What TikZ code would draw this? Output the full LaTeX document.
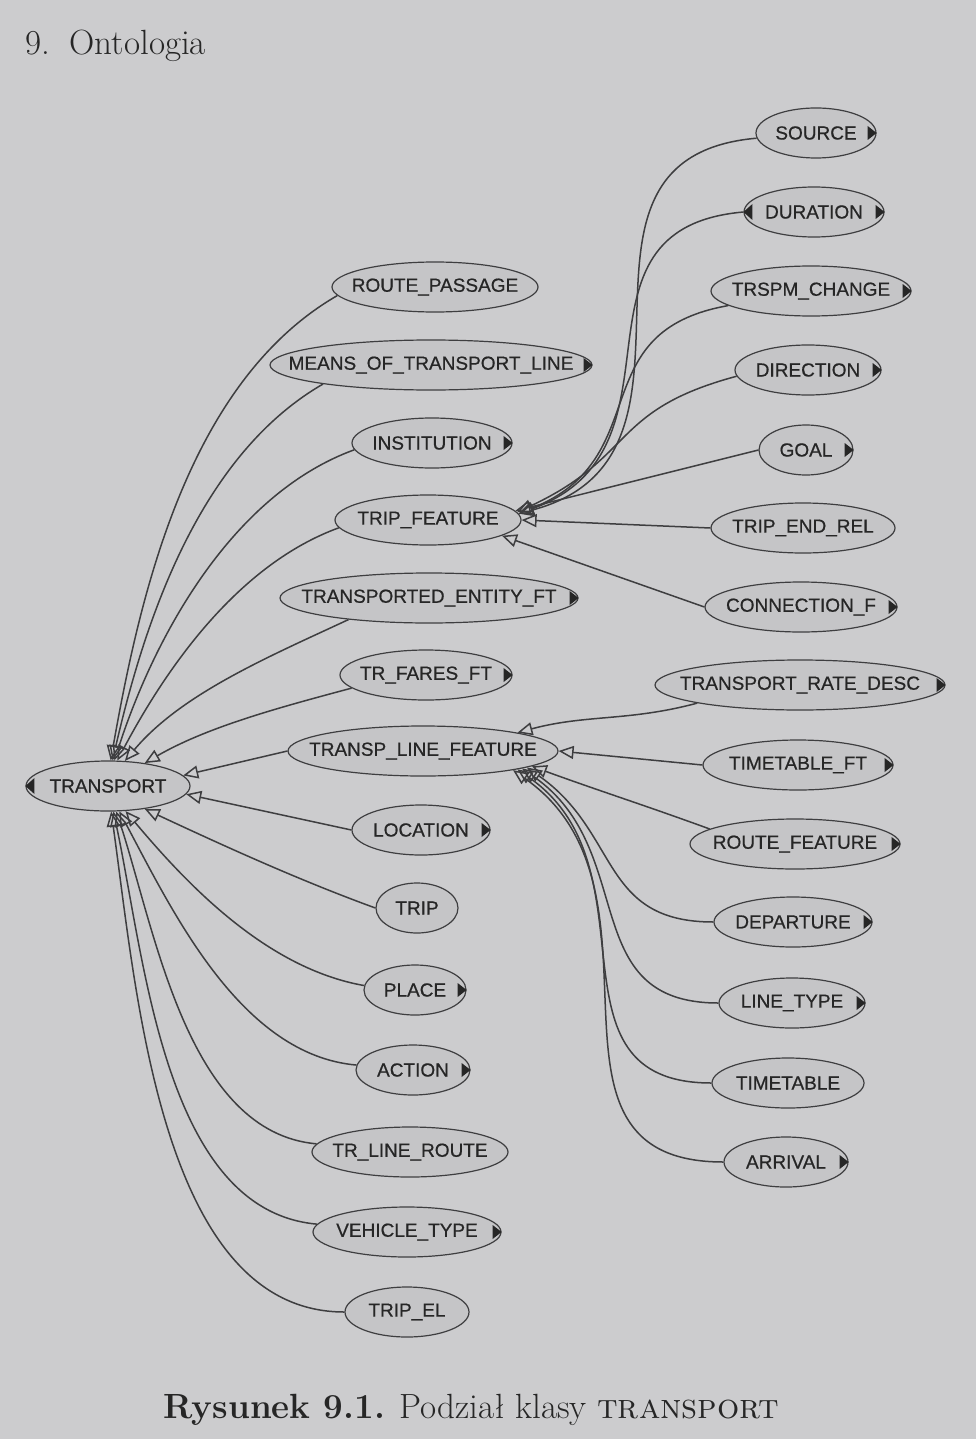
\documentclass[tikz,border=0pt]{standalone}
\usepackage{fontspec}
\newfontfamily\clsfont[FakeBold=0.6]{Liberation Sans}
\usetikzlibrary{shapes.geometric,arrows.meta}

\definecolor{paper}{RGB}{204,204,206}
\definecolor{ink}{RGB}{62,62,64}
\definecolor{bubble}{RGB}{197,197,199}

% text is kept out of the ellipse size
\newcommand{\clsname}[1]{\hbox to 0pt{\hss#1\hss}}

\tikzset{
  cls/.style={ellipse, draw=ink, line width=1.2pt, fill=bubble, inner sep=0pt,
    minimum height=50pt, text=black!85, font=\clsfont\fontsize{19}{22}\selectfont},
  isa/.style={draw=ink, line width=1.5pt, -{Triangle[open,length=15pt,width=13pt]}},
  tab/.style={fill=black!85}
}

\begin{document}
\begin{tikzpicture}[x=1pt,y=-1pt]
    % Page
    \fill[paper] (0,0) rectangle (976,1439);
    \useasboundingbox (0,0) rectangle (976,1439);
    \node[anchor=base west, text=black!85, font=\fontsize{35}{42}\selectfont] (head) at (22,55) {9.\hspace{0.55em}Ontologia};
    \node[anchor=base west, text=black!85, font=\fontsize{35}{42}\selectfont] (caption) at (160,1418) {\textbf{Rysunek 9.1.} Podział klasy \textsc{transport}};

    % Root
    \node[cls, minimum width=164pt] (transport) at (108,786) {\clsname{TRANSPORT}};

    % Middle column
    \node[cls, minimum width=206pt] (route) at (435,287) {\clsname{ROUTE\_PASSAGE}};
    \node[cls, minimum width=322pt] (means) at (431,365) {\clsname{MEANS\_OF\_TRANSPORT\_LINE}};
    \node[cls, minimum width=160pt] (institution) at (432,443) {\clsname{INSTITUTION}};
    \node[cls, minimum width=186pt] (tripfeat) at (428,520) {\clsname{TRIP\_FEATURE}};
    \node[cls, minimum width=298pt] (transent) at (429,598) {\clsname{TRANSPORTED\_ENTITY\_FT}};
    \node[cls, minimum width=172pt] (trfares) at (426,675) {\clsname{TR\_FARES\_FT}};
    \node[cls, minimum width=270pt] (tlf) at (423,751) {\clsname{TRANSP\_LINE\_FEATURE}};
    \node[cls, minimum width=138pt] (location) at (421,830) {\clsname{LOCATION}};
    \node[cls, minimum width=82pt] (trip) at (417,908) {\clsname{TRIP}};
    \node[cls, minimum width=102pt] (place) at (415,990) {\clsname{PLACE}};
    \node[cls, minimum width=114pt] (action) at (413,1070) {\clsname{ACTION}};
    \node[cls, minimum width=196pt] (trlineroute) at (410,1152) {\clsname{TR\_LINE\_ROUTE}};
    \node[cls, minimum width=188pt] (vehicle) at (407,1232) {\clsname{VEHICLE\_TYPE}};
    \node[cls, minimum width=124pt] (tripel) at (407,1312) {\clsname{TRIP\_EL}};

    % Right column, trip features
    \node[cls, minimum width=120pt] (source) at (816,133) {\clsname{SOURCE}};
    \node[cls, minimum width=140pt] (duration) at (814,212) {\clsname{DURATION}};
    \node[cls, minimum width=200pt] (trspm) at (811,291) {\clsname{TRSPM\_CHANGE}};
    \node[cls, minimum width=146pt] (direction) at (808,370) {\clsname{DIRECTION}};
    \node[cls, minimum width=94pt] (goal) at (806,450) {\clsname{GOAL}};
    \node[cls, minimum width=184pt] (tripend) at (803,528) {\clsname{TRIP\_END\_REL}};
    \node[cls, minimum width=192pt] (connection) at (801,607) {\clsname{CONNECTION\_F}};

    % Right column, line features
    \node[cls, minimum width=290pt] (trd) at (800,685) {\clsname{TRANSPORT\_RATE\_DESC}};
    \node[cls, minimum width=190pt] (timetableft) at (798,765) {\clsname{TIMETABLE\_FT}};
    \node[cls, minimum width=210pt] (routefeat) at (795,844) {\clsname{ROUTE\_FEATURE}};
    \node[cls, minimum width=158pt] (departure) at (793,922) {\clsname{DEPARTURE}};
    \node[cls, minimum width=146pt] (linetype) at (792,1003) {\clsname{LINE\_TYPE}};
    \node[cls, minimum width=152pt] (timetable) at (788,1083) {\clsname{TIMETABLE}};
    \node[cls, minimum width=124pt] (arrival) at (786,1162) {\clsname{ARRIVAL}};

    % Expand tabs
    \foreach \n in {means,institution,transent,trfares,location,place,action,vehicle,
                    source,duration,trspm,direction,goal,connection,
                    trd,timetableft,routefeat,departure,linetype,arrival}
        \fill[tab] ([xshift=-9pt]\n.east) -- ++(0,7) -- ++(9,-7) -- ++(-9,-7) -- cycle;
    \foreach \n in {transport,duration}
        \fill[tab] ([xshift=9pt]\n.west) -- ++(0,8) -- ++(-9,-8) -- ++(9,-8) -- cycle;

    % Subclasses of TRANSPORT
    \foreach \c/\a/\o/\i/\t in {route/185/210/80/84, means/190/210/77/80,
        institution/185/200/72/76, tripfeat/185/200/62/70,
        transent/195/205/50/56, trfares/190/195/30/32}
        \draw[isa, looseness=0.85] (\c.\a) to[out=\o, in=\i] (transport.\t);
    \draw[isa] (tlf.west) -- (transport.8);
    \draw[isa] (location.west) -- (transport.-6);
    \foreach \c/\a/\o/\i/\t in {trip/180/160/-25/-32, place/175/170/-50/-55,
        action/175/175/-62/-66, trlineroute/175/175/-72/-72,
        vehicle/175/175/-78/-78, tripel/180/180/-82/-83}
        \draw[isa, looseness=0.85] (\c.\a) to[out=\o, in=\i] (transport.\t);

    % Subclasses of TRIP_FEATURE
    \foreach \c/\a/\o/\i/\t in {source/185/185/15/4, duration/180/185/20/4,
        trspm/190/190/22/4, direction/185/195/25/5}
        \draw[isa, looseness=1.3] (\c.\a) to[out=\o, in=\i] (tripfeat.\t);
    \draw[isa] (goal.west) -- (tripfeat.6);
    \draw[isa] (tripend.west) -- (tripfeat.0);
    \draw[isa] (connection.west) -- (tripfeat.-12);

    % Subclasses of TRANSP_LINE_FEATURE
    \draw[isa] (trd.190) to[out=195, in=15] (tlf.11);
    \draw[isa] (timetableft.west) -- (tlf.0);
    \draw[isa] (routefeat.170) to[out=160, in=-20] (tlf.-8);
    \foreach \c/\t in {departure/-9, linetype/-10, timetable/-11, arrival/-12}
        \draw[isa, looseness=1.2] (\c.west) to[out=180, in=-35] (tlf.\t);
\end{tikzpicture}
\end{document}
